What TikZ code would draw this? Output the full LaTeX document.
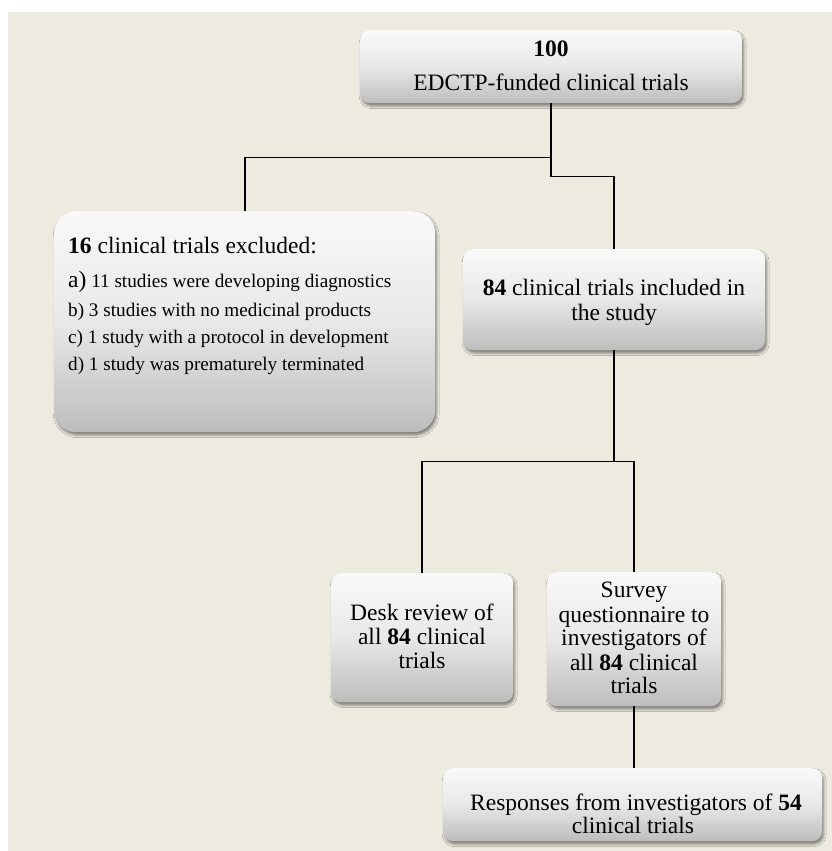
\documentclass[tikz,border=0pt]{standalone}
\usepackage{fontspec}
\setmainfont{Liberation Serif}
\usetikzlibrary{shadows.blur}
\definecolor{bgc}{RGB}{237,234,224}
\definecolor{boxtop}{RGB}{249,249,249}
\definecolor{boxmid}{RGB}{232,232,232}
\definecolor{boxbot}{RGB}{189,189,189}
\tikzset{
  flowbox/.style={rectangle, draw=none, rounded corners=10pt, inner sep=0pt, anchor=north west,
    top color=boxtop, bottom color=boxbot, middle color=boxmid,
    blur shadow={shadow xshift=1.5pt, shadow yshift=-3pt, shadow blur radius=2.5pt, shadow opacity=45}},
  bigtxt/.style={inner sep=0pt, font=\fontsize{23.5}{25}\selectfont},
  smalltxt/.style={inner sep=0pt, font=\fontsize{19.2}{22}\selectfont},
  conn/.style={draw=black, line width=1.8pt}
}
\begin{document}
\begin{tikzpicture}[x=1pt,y=-1pt]
\useasboundingbox (0,0) rectangle (832,851);
\fill[bgc] (8,12) rectangle (832,851);

% boxes
\node[flowbox, minimum width=382pt, minimum height=73pt] (top) at (360,30) {};
\node[flowbox, rounded corners=22pt, minimum width=381pt, minimum height=221pt] (excl) at (54,211) {};
\node[flowbox, minimum width=302pt, minimum height=101pt] (incl) at (463,249) {};
\node[flowbox, minimum width=182pt, minimum height=129pt] (desk) at (331,573) {};
\node[flowbox, minimum width=174pt, minimum height=134pt] (survey) at (547,572) {};
\node[flowbox, minimum width=379pt, minimum height=73pt] (resp) at (443,768) {};

% connectors
\draw[conn] (top.south) -- ++(0,54) coordinate (j1) -| (excl.north);
\draw[conn] (j1) -- ++(0,19) -| (incl.north);
\draw[conn] (incl.south) -- ++(0,111) coordinate (j2) -| (desk.north);
\draw[conn] (j2) -| (survey.north);
\draw[conn] (survey.south) -- (survey.south |- resp.north);

% texts: top
\node[bigtxt, anchor=base] (t100) at (551,57) {\textbf{100}};
\node[bigtxt, anchor=base] (tedctp) at (551,90) {EDCTP-funded clinical trials};

% excluded
\node[bigtxt, anchor=base west] (ex0) at (68,253) {\textbf{16} clinical trials excluded:};
\node[smalltxt, anchor=base west] (exa) at (68,287) {{\fontsize{23.5}{25}\selectfont a)} 11 studies were developing diagnostics};
\node[smalltxt, anchor=base west] (exb) at (68,316) {b) 3 studies with no medicinal products};
\node[smalltxt, anchor=base west] (exc) at (68,343) {c) 1 study with a protocol in development};
\node[smalltxt, anchor=base west] (exd) at (68,370) {d) 1 study was prematurely terminated};

% included
\node[bigtxt, anchor=base] (in1) at (614,295) {\textbf{84} clinical trials included in};
\node[bigtxt, anchor=base] (in2) at (614,320) {the study};

% desk review
\node[bigtxt, anchor=base] (d1) at (422,620) {Desk review of};
\node[bigtxt, anchor=base] (d2) at (422,644) {all \textbf{84} clinical};
\node[bigtxt, anchor=base] (d3) at (422,668) {trials};

% survey
\node[bigtxt, anchor=base] (s1) at (634,597) {Survey};
\node[bigtxt, anchor=base] (s2) at (634,622) {questionnaire to};
\node[bigtxt, anchor=base] (s3) at (634,645) {investigators of};
\node[bigtxt, anchor=base] (s4) at (634,670) {all \textbf{84} clinical};
\node[bigtxt, anchor=base] (s5) at (634,693) {trials};

% responses
\node[bigtxt, anchor=base] (r1) at (636,810) {Responses from investigators of \textbf{54}};
\node[bigtxt, anchor=base] (r2) at (633,833) {clinical trials};
\end{tikzpicture}
\end{document}
